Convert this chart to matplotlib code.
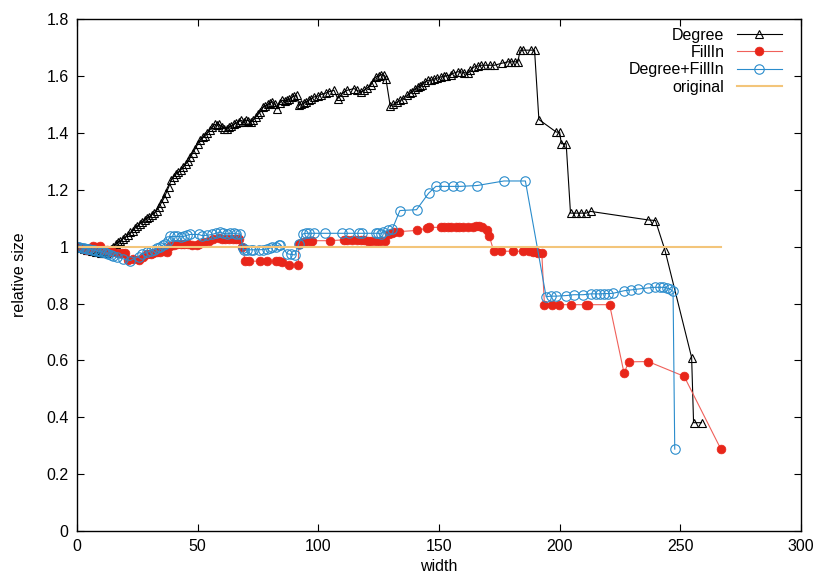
import numpy as np
import matplotlib
matplotlib.use("Agg")
from matplotlib import pyplot as plt

# Degree
deg_x = [0, 1, 2, 3, 4, 5, 6, 7, 8, 9, 10, 11, 12, 13, 14, 15, 16, 17, 18, 19,
         20, 21, 22, 23, 24, 25, 26, 27, 28, 29, 30, 31, 32, 33, 34, 35, 36, 37, 38, 39,
         40, 41, 42, 43, 44, 45, 46, 47, 48, 49, 50, 51, 52, 53, 54, 55, 56, 57, 58, 59,
         60, 61, 62, 63, 64, 65, 66, 67, 68, 69, 70, 71, 72, 73, 74, 75, 76, 77, 78, 79,
         80, 81, 82, 83, 84, 85, 86, 87, 88, 89, 90, 91, 92, 93, 94, 95, 96, 97, 98, 100,
         101, 103, 104.5, 106.5, 108, 109, 110.6, 112, 114.8, 116, 117.6, 119, 120, 121.7,
         122.5, 123.8, 125, 126, 127.3, 128, 129.8, 131, 132.8, 134, 135, 136.9, 138, 139,
         140, 141.1, 142, 143, 144, 145.3, 146.5, 148, 149, 150.8, 152, 153, 155, 156, 157.7,
         159, 160.5, 161.9, 163, 164.6, 166, 167.4, 169, 171, 173, 176, 178.5, 180, 181.5,
         182.7, 183.6, 185, 188, 189.6, 191.4, 198.6, 200, 200.7, 202.7, 204.5, 206.9, 209,
         211, 212.8, 236.7, 239.7, 243.6, 254.7, 255.5, 258.8]
deg_y = [1.0, 0.998, 0.995, 0.993, 0.99, 0.988, 0.986, 0.984, 0.982, 0.98, 0.978, 0.977,
         0.978, 0.985, 0.993, 1.0, 1.008, 1.015, 1.02, 1.028, 1.033, 1.04, 1.05, 1.055, 1.065,
         1.072, 1.08, 1.088, 1.095, 1.1, 1.105, 1.112, 1.12, 1.127, 1.14, 1.155, 1.17, 1.19,
         1.21, 1.235, 1.245, 1.255, 1.262, 1.27, 1.28, 1.29, 1.3, 1.315, 1.33, 1.345, 1.36,
         1.375, 1.385, 1.39, 1.4, 1.41, 1.42, 1.43, 1.427, 1.43, 1.42, 1.415, 1.415, 1.42,
         1.425, 1.43, 1.435, 1.44, 1.444, 1.44, 1.445, 1.443, 1.438, 1.445, 1.455, 1.465,
         1.475, 1.49, 1.495, 1.5, 1.505, 1.51, 1.5, 1.485, 1.505, 1.515, 1.512, 1.515, 1.518,
         1.525, 1.53, 1.532, 1.497, 1.5, 1.505, 1.51, 1.515, 1.52, 1.526, 1.53, 1.535, 1.54,
         1.545, 1.55, 1.521, 1.53, 1.544, 1.55, 1.556, 1.55, 1.544, 1.55, 1.557, 1.567, 1.58,
         1.597, 1.6, 1.605, 1.603, 1.591, 1.494, 1.5, 1.509, 1.515, 1.52, 1.532, 1.54, 1.545,
         1.555, 1.562, 1.565, 1.57, 1.578, 1.585, 1.585, 1.59, 1.592, 1.597, 1.6, 1.6, 1.605,
         1.61, 1.615, 1.615, 1.612, 1.609, 1.62, 1.632, 1.635, 1.638, 1.638, 1.638, 1.638,
         1.645, 1.65, 1.65, 1.65, 1.65, 1.691, 1.691, 1.691, 1.691, 1.447, 1.403, 1.403, 1.362,
         1.362, 1.118, 1.118, 1.118, 1.118, 1.124, 1.094, 1.092, 0.989, 0.61, 0.381, 0.381]

# FillIn
fill_x = [0, 1, 2, 3, 4, 5.5, 6.8, 8, 9.6, 11, 12.5, 14, 15.1, 17, 18.5, 19.9, 21.3, 23,
          25.8, 27.5, 29, 30.5, 31.5, 33.1, 34.5, 36, 37.3, 38.6, 40, 41.5, 43, 44.2, 46,
          47.5, 49.7, 50.4, 52.5, 54.5, 56.5, 58.7, 60, 61.5, 62.9, 64.5, 66, 67, 68.4, 69.8,
          71.2, 75.7, 78.8, 82.3, 83.5, 84.8, 87.8, 91.7, 91.9, 93, 94, 95.5, 96.8, 97.5,
          104.8, 110.5, 112, 114, 116.2, 117.5, 119, 120.4, 122, 123.8, 125.5, 127.7, 129.3,
          130.5, 131.5, 133.5, 140.7, 145, 146, 150.8, 152, 153.6, 155, 157, 158.5, 160,
          161.9, 164, 165.5, 166.7, 168, 169.8, 170.9, 172.7, 175.7, 180.6, 184.7, 187.5,
          188.9, 190, 191, 192.6, 193.7, 196.8, 199.7, 204.8, 211, 211.7, 220.7, 226.7,
          228.6, 236.7, 251.6, 266.7]
fill_y = [1.0, 0.998, 0.995, 0.993, 0.99, 0.995, 1.004, 1.0, 1.004, 0.99, 0.987, 0.983,
          0.98, 0.978, 0.977, 0.977, 0.953, 0.955, 0.953, 0.965, 0.975, 0.975, 0.978, 0.98,
          0.983, 0.985, 0.98, 1.004, 1.006, 1.008, 1.01, 1.01, 1.008, 1.007, 1.007, 1.01,
          1.015, 1.021, 1.027, 1.031, 1.028, 1.027, 1.027, 1.027, 1.027, 1.027, 0.998, 0.949,
          0.949, 0.949, 0.949, 0.949, 0.948, 0.945, 0.936, 0.936, 1.01, 1.013, 1.016, 1.019,
          1.021, 1.021, 1.021, 1.024, 1.024, 1.024, 1.024, 1.024, 1.024, 1.021, 1.021, 1.021,
          1.021, 1.019, 1.045, 1.048, 1.05, 1.053, 1.057, 1.065, 1.068, 1.068, 1.068, 1.068,
          1.068, 1.068, 1.068, 1.068, 1.068, 1.07, 1.074, 1.074, 1.07, 1.059, 1.036, 0.984,
          0.984, 0.984, 0.984, 0.984, 0.982, 0.98, 0.977, 0.977, 0.796, 0.796, 0.796, 0.796,
          0.796, 0.796, 0.796, 0.555, 0.595, 0.596, 0.544, 0.29]

# Degree+FillIn
both_x = [0, 1, 2, 3, 4, 5, 6, 7, 8, 9, 10, 11, 12, 13, 14, 15, 16.5, 19.2, 22, 25.5, 27,
          29, 30.5, 31.7, 33, 34.5, 35.5, 36.6, 37.5, 38.6, 40, 41.4, 43, 44.2, 45.5, 46.9,
          50.4, 51.8, 54, 56, 57.5, 59.4, 60.5, 62.2, 63.5, 64.9, 66, 67.7, 68.7, 69.1, 70.5,
          71.9, 73, 75.3, 77, 78.8, 80, 81, 82.3, 83.5, 84.3, 87.1, 88.5, 90.3, 91.9, 93.6,
          94.8, 96.1, 98.2, 102.6, 110, 112.7, 116.9, 117.9, 123.8, 124.8, 125.9, 127, 128.7,
          130.7, 133.8, 140.7, 145.7, 148.7, 151.9, 155.7, 158.8, 165.8, 176.9, 185.8, 194.4,
          196.5, 198.6, 202.7, 205.8, 209.7, 212.8, 215.2, 216.9, 218.4, 220, 222.1, 226.7,
          229.7, 232.5, 236.7, 239.4, 241.5, 242.9, 244.3, 245.7, 247, 247.7]
both_y = [1.0, 0.998, 0.996, 0.994, 0.993, 0.991, 0.99, 0.988, 0.986, 0.984, 0.982, 0.98,
          0.977, 0.974, 0.971, 0.967, 0.963, 0.957, 0.951, 0.965, 0.975, 0.98, 0.985, 0.989,
          0.995, 1.0, 1.005, 1.01, 1.02, 1.036, 1.036, 1.036, 1.035, 1.036, 1.04, 1.043,
          1.043, 1.039, 1.04, 1.043, 1.047, 1.051, 1.047, 1.045, 1.047, 1.047, 1.045, 1.045,
          0.996, 0.989, 0.989, 0.989, 0.989, 0.989, 0.99, 0.992, 0.995, 0.998, 1.0, 1.005,
          1.007, 0.975, 0.973, 0.971, 1.01, 1.045, 1.047, 1.047, 1.047, 1.047, 1.047, 1.047,
          1.047, 1.047, 1.047, 1.047, 1.045, 1.052, 1.057, 1.063, 1.127, 1.13, 1.188, 1.212,
          1.212, 1.212, 1.212, 1.215, 1.231, 1.231, 0.824, 0.826, 0.826, 0.828, 0.831, 0.831,
          0.834, 0.834, 0.834, 0.835, 0.835, 0.836, 0.845, 0.848, 0.851, 0.855, 0.857, 0.857,
          0.857, 0.855, 0.851, 0.843, 0.288]

# original
orig_x = [0, 266.7]
orig_y = [1.0, 1.0]

x_ticks = [0, 50, 100, 150, 200, 250, 300]
y_ticks = [0, 0.2, 0.4, 0.6, 0.8, 1, 1.2, 1.4, 1.6, 1.8]
y_labels = ["0", "0.2", "0.4", "0.6", "0.8", "1", "1.2", "1.4", "1.6", "1.8"]

plt.rcParams['font.family'] = ['Liberation Sans', 'DejaVu Sans']

fig = plt.figure(figsize=(8.3, 5.81), dpi=100)
ax = fig.add_axes([0.0928, 0.086, 0.8722, 0.881])

ax.plot(deg_x, deg_y, color='black', lw=0.8, marker='^', ms=6, mfc='none',
        mec='black', mew=0.8, label='Degree')
ax.plot(fill_x, fill_y, color='#f0605a', lw=0.8, marker='o', ms=6.3, mfc='#e8261a',
        mec='#e8261a', mew=0.5, label='FillIn')
ax.plot(both_x, both_y, color='#2a8ccc', lw=0.8, marker='o', ms=6.8, mfc='none',
        mec='#2a8ccc', mew=0.8, label='Degree+FillIn')
ax.plot(orig_x, orig_y, color='#f3c57a', lw=1.5, label='original')

ax.set_xlim(0, 300)
ax.set_ylim(0, 1.8)
ax.set_xticks(x_ticks)
ax.set_yticks(y_ticks)
ax.set_yticklabels(y_labels)
ax.tick_params(direction='in', top=True, right=True, length=5, width=0.8,
               labelsize=11.5, pad=6)
for s in ax.spines.values():
    s.set_linewidth(1.0)
ax.set_xlabel('width', fontsize=11.5, labelpad=3)
ax.set_ylabel('relative size', fontsize=11.5, labelpad=14)

leg = ax.legend(loc='upper right', markerfirst=False, frameon=False, fontsize=11.5,
                handlelength=2.8, labelspacing=0.14, borderaxespad=0.3,
                handletextpad=0.8, bbox_to_anchor=(0.989, 1.005))

fig.savefig('out.png', dpi=100)
